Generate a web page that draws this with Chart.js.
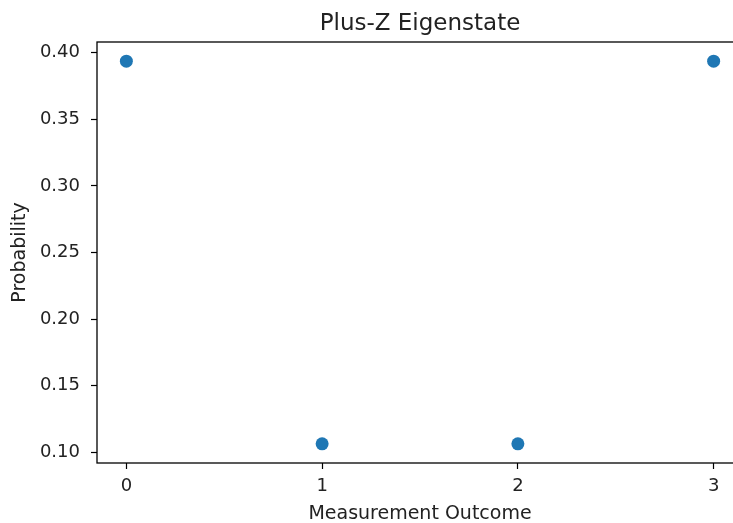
<!DOCTYPE html>
<html>
<head>
<meta charset="utf-8">
<script src="https://cdn.jsdelivr.net/npm/chart.js@4/dist/chart.umd.min.js"></script>
<style>
  html, body { margin: 0; padding: 0; background: #fff; overflow: hidden; }
  #wrap { width: 733px; height: 523px; overflow: hidden; }
  canvas { display: block; }
</style>
</head>
<body>
<div id="wrap"><canvas id="probChart" width="760" height="523"></canvas></div>
<script>
// measurement outcomes and their probabilities
const outcomes = [0, 1, 2, 3];
const probs = [0.3936, 0.1064, 0.1064, 0.3936];
const xTicks = [0, 1, 2, 3];
const yTicks = [0.10, 0.15, 0.20, 0.25, 0.30, 0.35, 0.40];

const font = 'DejaVu Sans';

// axes frame (the right spine sits past the edge of the picture)
const frame = {
    id: 'frame',
    afterDatasetsDraw(chart) {
        const a = chart.chartArea;
        const c = chart.ctx;
        c.save();
        c.strokeStyle = '#000';
        c.lineWidth = 1.3;
        c.strokeRect(a.left, a.top, a.right - a.left, a.bottom - a.top);
        c.restore();
    }
};

const ctx = document.getElementById('probChart').getContext('2d');

const chart = new Chart(ctx, {
    type: 'scatter',
    data: {
        datasets: [{
            label: 'probs',
            data: outcomes.map((x, i) => ({x: x, y: probs[i]})),
            backgroundColor: '#1f77b4',
            borderWidth: 0,
            pointRadius: 6.5,
            pointHoverRadius: 6.5
        }]
    },
    options: {
        responsive: false,
        animation: false,
        layout: {padding: {left: 0, top: 0, right: 17, bottom: 0}},
        plugins: {
            legend: {display: false},
            tooltip: {enabled: false}
        },
        scales: {
            x: {
                type: 'linear',
                min: -0.15,
                max: 3.15,
                afterFit: s => { s.height = 60; },
                afterBuildTicks: s => { s.ticks = xTicks.map(v => ({value: v})); },
                grid: {drawOnChartArea: false, drawTicks: true, tickLength: 6, tickColor: '#000', tickWidth: 1.2},
                border: {display: false},
                ticks: {color: '#222', font: {family: font, size: 18}, padding: 7, maxRotation: 0,
                        callback: v => String(v)},
                title: {display: true, text: 'Measurement Outcome', color: '#222',
                        font: {family: font, size: 19}, padding: {top: 0, bottom: -2}}
            },
            // top axis only carries the chart title, centred over the plot
            top: {
                type: 'linear',
                position: 'top',
                min: -0.15,
                max: 3.15,
                afterFit: s => { s.height = 42; },
                grid: {display: false},
                border: {display: false},
                ticks: {display: false},
                title: {display: true, text: 'Plus-Z Eigenstate', color: '#222',
                        font: {family: font, size: 23}, padding: {top: 10, bottom: 0}}
            },
            y: {
                type: 'linear',
                min: 0.0920,
                max: 0.4080,
                afterFit: s => { s.width = 97; },
                afterBuildTicks: s => { s.ticks = yTicks.map(v => ({value: v})); },
                grid: {drawOnChartArea: false, drawTicks: true, tickLength: 6, tickColor: '#000', tickWidth: 1.2},
                border: {display: false},
                ticks: {color: '#222', font: {family: font, size: 18}, padding: 11,
                        callback: v => v.toFixed(2)},
                title: {display: true, text: 'Probability', color: '#222',
                        font: {family: font, size: 19}, padding: {top: 8.9, bottom: 0}}
            }
        }
    },
    plugins: [frame]
});
</script>
</body>
</html>
